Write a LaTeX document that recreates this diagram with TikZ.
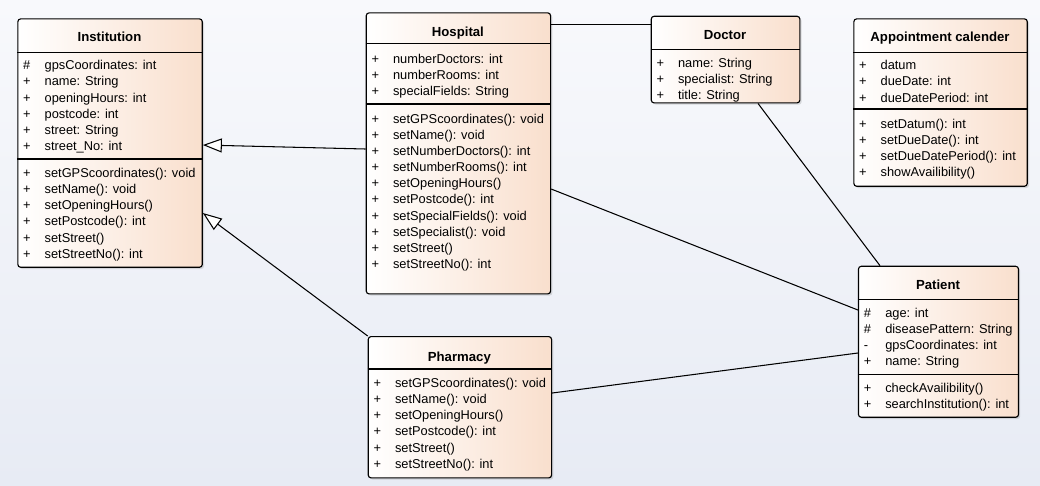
\documentclass[tikz,border=0pt]{standalone}
\usepackage{fontspec}
\setmainfont{Liberation Sans}
\usepackage{tikz}
\usetikzlibrary{arrows.meta, shadows}

\newlength{\pix}
\setlength{\pix}{0.02cm}

\definecolor{fondoA}{RGB}{248,249,252}
\definecolor{fondoB}{RGB}{231,235,244}
\definecolor{salmon}{RGB}{249,223,205}

% lista de miembros: simbolo + texto
\newcommand{\miembros}[1]{\begin{tabular}{@{}p{21.5\pix}@{}l@{}}#1\end{tabular}}

\begin{document}
\begin{tikzpicture}[x=0.02cm, y=-0.02cm,
  clase/.style={draw, line width=0.65pt, rounded corners=1.6pt, left color=white, right color=salmon,
    anchor=north west, inner sep=0pt, drop shadow={shadow xshift=1pt, shadow yshift=-1pt, opacity=0.25}},
  titulo/.style={anchor=base, font=\fontsize{7.5}{9.2}\selectfont\bfseries},
  lista/.style={anchor=north west, inner sep=0pt, font=\fontsize{7.3}{9.2}\selectfont},
  sep/.style={line width=0.6pt},
  hereda/.style={-{Triangle[length=0.38cm, width=0.28cm, fill=white]}, line width=0.6pt},
  asocia/.style={line width=0.6pt}]

% Fondo
\fill[top color=fondoA, bottom color=fondoB] (0,0) rectangle (1040,485);

% Clase Institution
\node[clase, minimum width=184.4*\pix, minimum height=248.4*\pix] (inst) at (17.3,18.3) {};
\node[titulo] (inst-tit) at (109.5,41.4) {Institution};
\draw[sep] (inst.west |- 0,52.3) -- (inst.east |- 0,52.3);
\draw[sep] (inst.west |- 0,159) -- (inst.east |- 0,159);
\node[lista] (inst-attr) at (22.8,58.1) {\miembros{\#& gpsCoordinates: int\\ +& name: String\\ +& openingHours: int\\
  +& postcode: int\\ +& street: String\\ +& street\_No: int}};
\node[lista] (inst-met) at (22.8,165.8) {\miembros{+& setGPScoordinates(): void\\ +& setName(): void\\
  +& setOpeningHours()\\ +& setPostcode(): int\\ +& setStreet()\\ +& setStreetNo(): int}};

% Clase Hospital
\node[clase, minimum width=184.3*\pix, minimum height=281*\pix] (hosp) at (365.7,12.3) {};
\node[titulo] (hosp-tit) at (457.9,36.4) {Hospital};
\draw[sep] (hosp.west |- 0,43.3) -- (hosp.east |- 0,43.3);
\draw[sep] (hosp.west |- 0,104) -- (hosp.east |- 0,104);
\node[lista] (hosp-attr) at (371.2,51.4) {\miembros{+& numberDoctors: int\\ +& numberRooms: int\\ +& specialFields: String}};
\node[lista] (hosp-met) at (371.2,111.4) {\miembros{+& setGPScoordinates(): void\\ +& setName(): void\\
  +& setNumberDoctors(): int\\ +& setNumberRooms(): int\\ +& setOpeningHours()\\ +& setPostcode(): int\\
  +& setSpecialFields(): void\\ +& setSpecialist(): void\\ +& setStreet()\\ +& setStreetNo(): int}};

% Clase Doctor
\node[clase, minimum width=148.6*\pix, minimum height=86.6*\pix] (doc) at (650.7,15.7) {};
\node[titulo] (doc-tit) at (725,39.7) {Doctor};
\draw[sep] (doc.west |- 0,49.3) -- (doc.east |- 0,49.3);
\node[lista] (doc-attr) at (656.2,55.8) {\miembros{+& name: String\\ +& specialist: String\\ +& title: String}};

% Clase Appointment calender
\node[clase, minimum width=173.4*\pix, minimum height=167.4*\pix] (cita) at (853.3,18.3) {};
\node[titulo] (cita-tit) at (940,41.4) {Appointment calender};
\draw[sep] (cita.west |- 0,52.3) -- (cita.east |- 0,52.3);
\draw[sep] (cita.west |- 0,109) -- (cita.east |- 0,109);
\node[lista] (cita-attr) at (858.8,58.1) {\miembros{+& datum\\ +& dueDate: int\\ +& dueDatePeriod: int}};
\node[lista] (cita-met) at (858.8,116.4) {\miembros{+& setDatum(): int\\ +& setDueDate(): int\\
  +& setDueDatePeriod(): int\\ +& showAvailibility()}};

% Clase Patient
\node[clase, minimum width=160*\pix, minimum height=151*\pix] (pac) at (857.9,265.7) {};
\node[titulo] (pac-tit) at (938,289.7) {Patient};
\draw[sep] (pac.west |- 0,299.3) -- (pac.east |- 0,299.3);
\draw[sep] (pac.west |- 0,374.3) -- (pac.east |- 0,374.3);
\node[lista] (pac-attr) at (863.4,305.4) {\miembros{\#& age: int\\ \#& diseasePattern: String\\
  -& gpsCoordinates: int\\ +& name: String}};
\node[lista] (pac-met) at (863.4,380.8) {\miembros{+& checkAvailibility()\\ +& searchInstitution(): int}};

% Clase Pharmacy
\node[clase, minimum width=183.3*\pix, minimum height=141.3*\pix] (farm) at (367.7,336) {};
\node[titulo] (farm-tit) at (459.4,361.4) {Pharmacy};
\draw[sep] (farm.west |- 0,369) -- (farm.east |- 0,369);
\node[lista] (farm-met) at (373.2,375.8) {\miembros{+& setGPScoordinates(): void\\ +& setName(): void\\
  +& setOpeningHours()\\ +& setPostcode(): int\\ +& setStreet()\\ +& setStreetNo(): int}};

% Herencia
\draw[hereda] (hosp.west |- 0,149) -- (inst.east |- 0,145);
\draw[hereda] (farm.north west) -- (inst.east |- 0,213);

% Asociaciones
\draw[asocia] (hosp.east |- 0,24.5) -- (doc.west |- 0,24.5);
\draw[asocia] (hosp.east |- 0,189) -- (pac.west |- 0,310);
\draw[asocia] (doc.south -| 758,0) -- (pac.north -| 880,0);
\draw[asocia] (farm.east |- 0,393) -- (pac.west |- 0,353);

\end{tikzpicture}
\end{document}
